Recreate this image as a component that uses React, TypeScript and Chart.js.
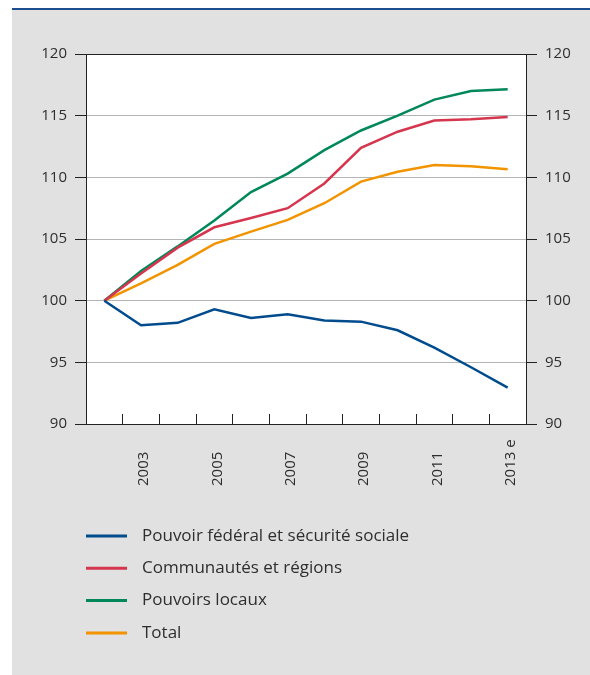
import React, { useEffect, useRef } from 'react';
import { Chart, registerables } from 'chart.js';

Chart.register(...registerables);

const years = ['2002', '2003', '2004', '2005', '2006', '2007', '2008', '2009', '2010', '2011', '2012', '2013 e'];
const federal = [100, 98.0, 98.2, 99.3, 98.6, 98.9, 98.4, 98.3, 97.6, 96.2, 94.6, 92.95];
const communities = [100, 102.2, 104.3, 105.95, 106.7, 107.5, 109.5, 112.4, 113.7, 114.6, 114.7, 114.9];
const localGov = [100, 102.4, 104.4, 106.5, 108.8, 110.3, 112.2, 113.8, 115.0, 116.3, 117.0, 117.15];
const total = [100, 101.4, 102.9, 104.6, 105.6, 106.55, 107.9, 109.65, 110.45, 111.0, 110.9, 110.65];
const seriesNames = [
  'Pouvoir fédéral et sécurité sociale',
  'Communautés et régions',
  'Pouvoirs locaux',
  'Total',
];
const seriesColors = ['#004b8d', '#d6354e', '#00875a', '#f29400'];
const yMin = 90;
const yMax = 120;
const yStep = 5;

const FONT = '"Open Sans", "Noto Sans", sans-serif';
const TEXT = '#2e2e2e';
const AXIS = '#222222';

const backgroundPlugin = {
  id: 'bgPlugin',
  beforeDraw(chart: any) {
    const { ctx, chartArea } = chart;
    ctx.save();
    ctx.fillStyle = '#e1e1e1';
    ctx.fillRect(12, 10, 590 - 12, 675 - 10);
    ctx.fillStyle = '#1d4f8f';
    ctx.fillRect(12, 8, 590 - 12, 2);
    ctx.fillStyle = '#ffffff';
    ctx.fillRect(chartArea.left, chartArea.top, chartArea.right - chartArea.left, chartArea.bottom - chartArea.top);
    ctx.restore();
  },
};

const xLabelPlugin = {
  id: 'xLabelPlugin',
  afterDraw(chart: any) {
    const { ctx } = chart;
    const scale = chart.scales.x;
    const labels = chart.data.labels as string[];
    ctx.save();
    ctx.font = `15px ${FONT}`;
    ctx.fillStyle = TEXT;
    ctx.textAlign = 'left';
    ctx.textBaseline = 'middle';
    labels.forEach((lab, i) => {
      if (i % 2 !== 1) return;
      const x = scale.getPixelForTick(i) + 3;
      ctx.save();
      ctx.translate(x, 486);
      ctx.rotate(-Math.PI / 2);
      ctx.fillText(lab, 0, 0);
      ctx.restore();
    });
    ctx.restore();
  },
};

const legendPlugin = {
  id: 'customLegend',
  afterDraw(chart: any) {
    const { ctx } = chart;
    ctx.save();
    chart.data.datasets.forEach((ds: any, i: number) => {
      const y = 536 + i * 32.3;
      ctx.strokeStyle = ds.borderColor;
      ctx.lineWidth = 3;
      ctx.beginPath();
      ctx.moveTo(86, y);
      ctx.lineTo(127, y);
      ctx.stroke();
      ctx.font = `17px ${FONT}`;
      ctx.fillStyle = TEXT;
      ctx.textAlign = 'left';
      ctx.textBaseline = 'middle';
      ctx.fillText(ds.label, 142, y);
    });
    ctx.restore();
  },
};

export default function App() {
  const ref = useRef<HTMLCanvasElement | null>(null);

  useEffect(() => {
    if (!ref.current) return;
    const seriesData = [federal, communities, localGov, total];
    const yTickCfg = {
      font: { family: FONT, size: 15 },
      color: TEXT,
      padding: 8,
      stepSize: yStep,
    };
    const chart = new Chart(ref.current, {
      type: 'line',
      data: {
        labels: years,
        datasets: seriesData.map((d, i) => ({
          label: seriesNames[i],
          data: d,
          borderColor: seriesColors[i],
          backgroundColor: seriesColors[i],
          borderWidth: 2.5,
          pointRadius: 0,
          tension: 0,
          fill: false,
          yAxisID: 'y',
        })),
      },
      options: {
        responsive: false,
        animation: false,
        devicePixelRatio: 1,
        layout: { padding: { left: 0, right: 0, top: 54, bottom: 231 } },
        plugins: {
          legend: { display: false },
          tooltip: { enabled: false },
          title: { display: false },
        },
        scales: {
          x: {
            type: 'category',
            offset: true,
            grid: {
              offset: true,
              drawOnChartArea: false,
              drawTicks: true,
              tickLength: -10,
              tickColor: AXIS,
              color: AXIS,
            },
            border: { display: true, color: AXIS, width: 1 },
            ticks: { display: false, autoSkip: false },
            afterFit: (s: any) => {
              s.height = 20;
            },
          },
          y: {
            position: 'left',
            min: yMin,
            max: yMax,
            ticks: yTickCfg,
            grid: {
              color: (c: any) => (c.tick && c.tick.value === yMax ? AXIS : '#b5b5b5'),
              lineWidth: 1,
              tickLength: 11,
              tickColor: AXIS,
            },
            border: { display: true, color: AXIS, width: 1 },
            afterFit: (s: any) => {
              s.width = 86;
            },
          },
          y2: {
            position: 'right',
            min: yMin,
            max: yMax,
            ticks: yTickCfg,
            grid: {
              drawOnChartArea: false,
              tickLength: 11,
              tickColor: AXIS,
            },
            border: { display: true, color: AXIS, width: 1 },
            afterFit: (s: any) => {
              s.width = 64;
            },
          },
        },
      },
      plugins: [backgroundPlugin, xLabelPlugin, legendPlugin],
    });
    return () => chart.destroy();
  }, []);

  return (
    <div style={{ position: 'absolute', left: 0, top: 0, width: 590, height: 675 }}>
      <canvas ref={ref} width={590} height={675} style={{ display: 'block' }} />
    </div>
  );
}
